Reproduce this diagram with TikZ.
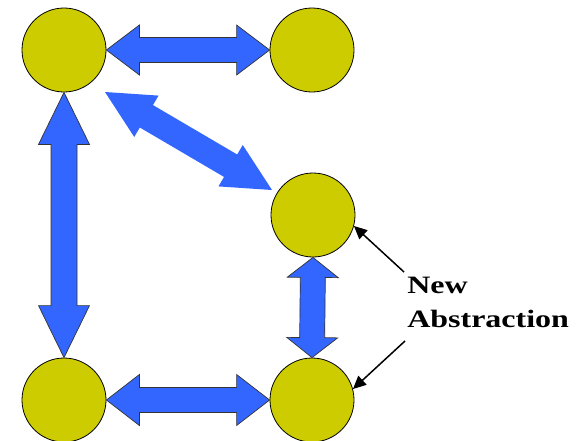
\documentclass[tikz,border=0pt]{standalone}
\usepackage{fontspec}
\newfontfamily\calloutfont{Liberation Serif}
\usetikzlibrary{calc,arrows.meta}

\definecolor{olive}{RGB}{204,204,0}
\definecolor{arrowblue}{RGB}{51,102,255}

% Block double arrow between two points:
% #1 style, #2 tip A, #3 tip B, #4 shaft half width, #5 head half width, #6 head length
\newcommand\fatarrow[6]{%
  \path[#1] (#2)
    -- ($($(#2)!#6!(#3)$)!#5!90:(#3)$)
    -- ($($(#2)!#6!(#3)$)!#4!90:(#3)$)
    -- ($($(#3)!#6!(#2)$)!#4!-90:(#2)$)
    -- ($($(#3)!#6!(#2)$)!#5!-90:(#2)$)
    -- (#3)
    -- ($($(#3)!#6!(#2)$)!#5!90:(#2)$)
    -- ($($(#3)!#6!(#2)$)!#4!90:(#2)$)
    -- ($($(#2)!#6!(#3)$)!#4!-90:(#3)$)
    -- ($($(#2)!#6!(#3)$)!#5!-90:(#3)$)
    -- cycle;}

\tikzset{
  ball/.style={circle, draw=black, line width=0.8pt, fill=olive,
    minimum size=84pt, inner sep=0pt},
  blockarrow/.style={fill=arrowblue, draw=black!80, line width=0.7pt, line join=miter},
  plainblock/.style={fill=arrowblue},
  callout/.style={draw=black, line width=1.5pt,
    -{Triangle[length=13pt,width=12pt]}},
  calloutlabel/.style={font=\calloutfont\bfseries\fontsize{25}{34}\selectfont,
    align=left, inner sep=0pt, xscale=1.28, anchor=north west}
}

\begin{document}
\begin{tikzpicture}[x=1pt,y=-1pt]
  \useasboundingbox (0,0) rectangle (585,440);

  % the five abstractions
  \node[ball] (tl) at (64,50)  {};
  \node[ball] (tr) at (312,50) {};
  \node[ball] (mr) at (313,215) {};
  \node[ball] (bl) at (64,400) {};
  \node[ball] (br) at (312,400) {};

  % free tips of the diagonal arrow
  \coordinate (d1) at (105,92);
  \coordinate (d2) at (272,190);

  % two-way links
  \fatarrow{blockarrow}{tl.east}{tr.west}{12.5pt}{25pt}{33pt}
  \fatarrow{blockarrow}{bl.east}{br.west}{12.5pt}{25.5pt}{33pt}
  \fatarrow{blockarrow}{tl.south}{bl.north}{13pt}{25.5pt}{52pt}
  \fatarrow{blockarrow}{mr.south}{br.north}{12.5pt}{25.5pt}{20pt}
  \fatarrow{plainblock}{d1}{d2}{13pt}{24pt}{48pt}

  % label and its pointers
  \node[calloutlabel] (lbl) at (407,277) {New\\Abstraction};
  \coordinate (c1) at (404,272);
  \coordinate (c2) at (405,341);
  \draw[callout] (c1) -- (mr.-15);
  \draw[callout] (c2) -- (br.15);
\end{tikzpicture}
\end{document}
